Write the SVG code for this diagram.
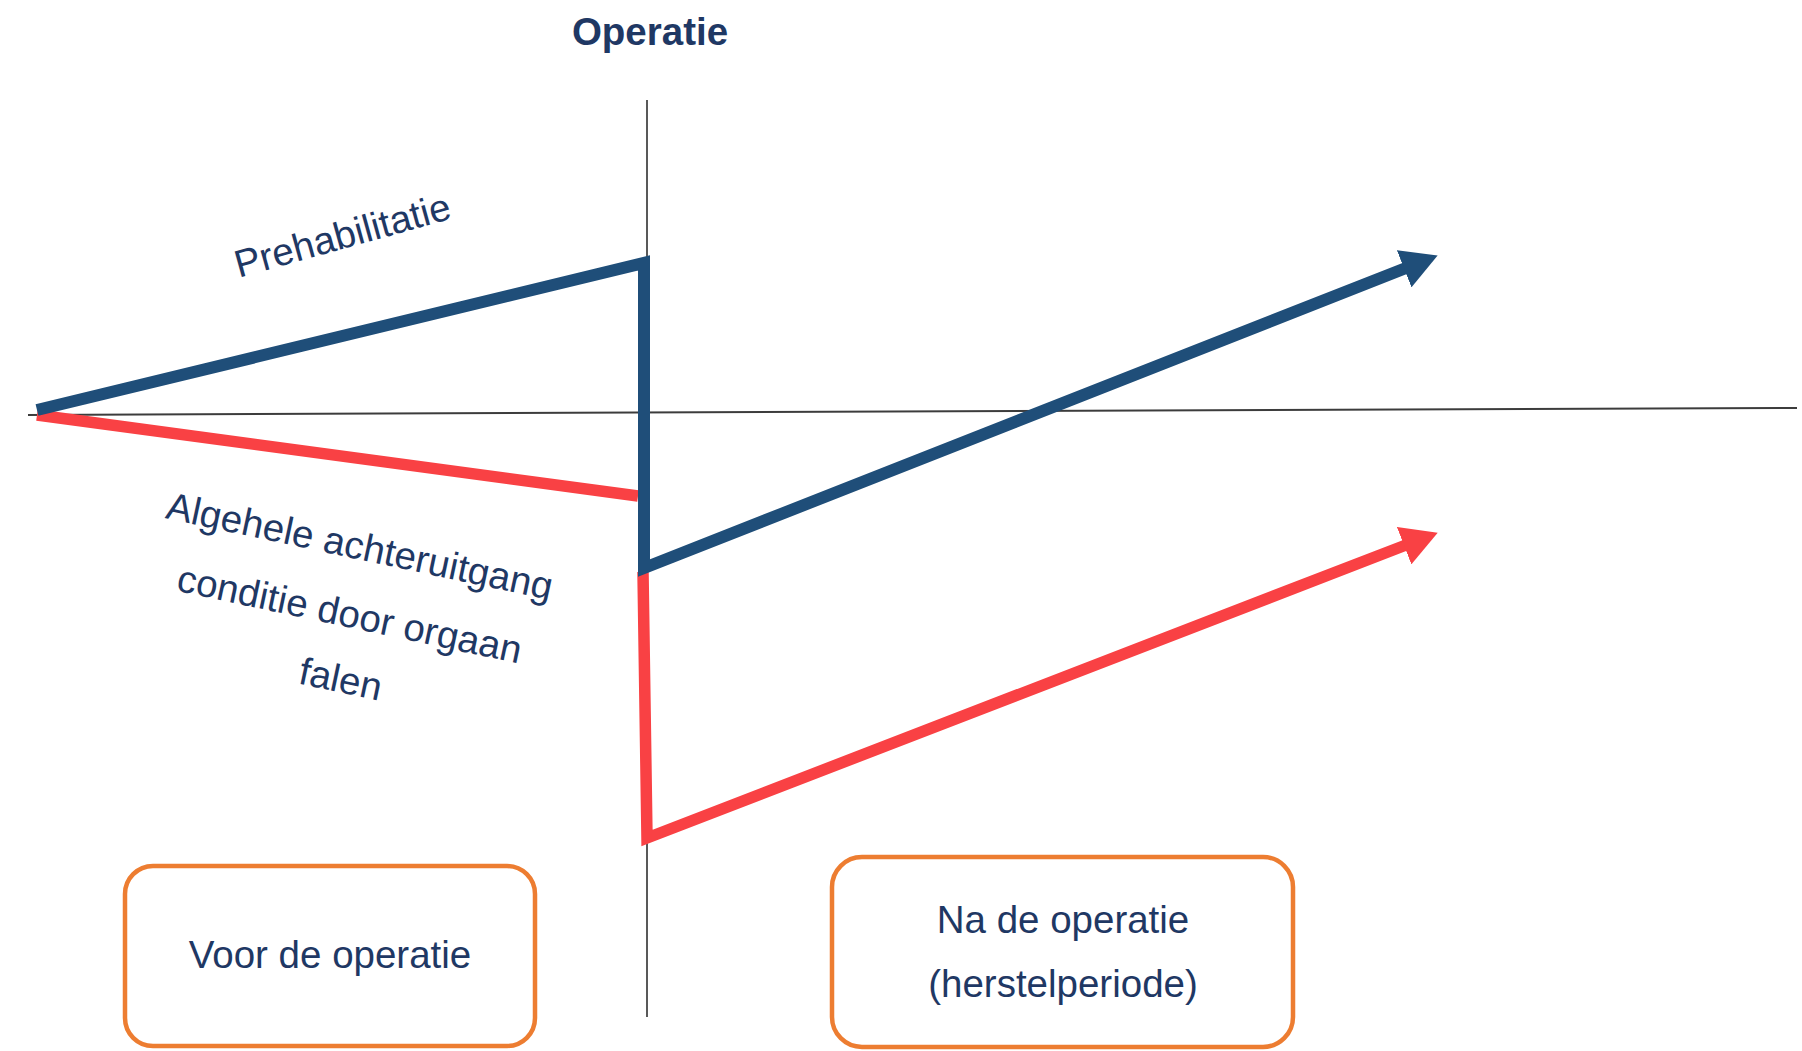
<svg xmlns="http://www.w3.org/2000/svg" width="1802" height="1051" viewBox="0 0 1802 1051">
<style>
.t{font-family:"Liberation Sans",Arial,sans-serif;fill:#1f3864;font-size:38.5px}
.b{font-weight:bold}
.box{fill:#fff;stroke:#ed7d31;stroke-width:4.5}
.ax{stroke:#3c3c3c;stroke-width:2;fill:none}
.blue{stroke:#1f4e79;stroke-width:12;fill:none;stroke-linejoin:miter;stroke-miterlimit:10}
.red{stroke:#f94144;stroke-width:11.5;fill:none;stroke-linejoin:miter;stroke-miterlimit:10}
</style>
<defs>
<marker id="ab" markerUnits="userSpaceOnUse" markerWidth="36" markerHeight="40" viewBox="0 0 36 40" refX="2" refY="20" orient="auto"><path d="M0,0 L36,20 L0,40 Z" fill="#1f4e79"/></marker>
<marker id="ar" markerUnits="userSpaceOnUse" markerWidth="36" markerHeight="40" viewBox="0 0 36 40" refX="2" refY="20" orient="auto"><path d="M0,0 L36,20 L0,40 Z" fill="#f94144"/></marker>
</defs>
<rect width="1802" height="1051" fill="#fff"/>
<g id="title"><text class="t b" x="650" y="45" text-anchor="middle" font-size="38">Operatie</text></g>
<g id="connectors">
<line class="ax" x1="28" y1="415" x2="1797" y2="408"/>
<line x1="647" y1="100" x2="647" y2="1017" stroke="#222" stroke-width="1.5"/>
<path class="red" d="M37,415 L638,496"/>
<path class="red" d="M643,572 L647,838 L1406,545" marker-end="url(#ar)"/>
<path class="blue" d="M37,410 L644,263 L644,568 L1406,268" marker-end="url(#ab)"/>
</g>
<g id="label-prehab"><text class="t" transform="translate(346,248) rotate(-15.5)" text-anchor="middle" font-size="40">Prehabilitatie</text></g>
<g id="label-achteruitgang">
<text class="t" transform="translate(357,559) rotate(12)" text-anchor="middle">Algehele achteruitgang</text>
<text class="t" transform="translate(347,627) rotate(12)" text-anchor="middle">conditie door orgaan</text>
<text class="t" transform="translate(338,692) rotate(12)" text-anchor="middle">falen</text>
</g>
<g id="box-voor">
<rect class="box" x="125" y="866" width="410" height="180" rx="28"/>
<text class="t" x="330" y="968" text-anchor="middle">Voor de operatie</text>
</g>
<g id="box-na">
<rect class="box" x="832" y="857" width="461" height="190" rx="30"/>
<text class="t" x="1063" y="933" text-anchor="middle">Na de operatie</text>
<text class="t" x="1063" y="997" text-anchor="middle">(herstelperiode)</text>
</g>
</svg>
